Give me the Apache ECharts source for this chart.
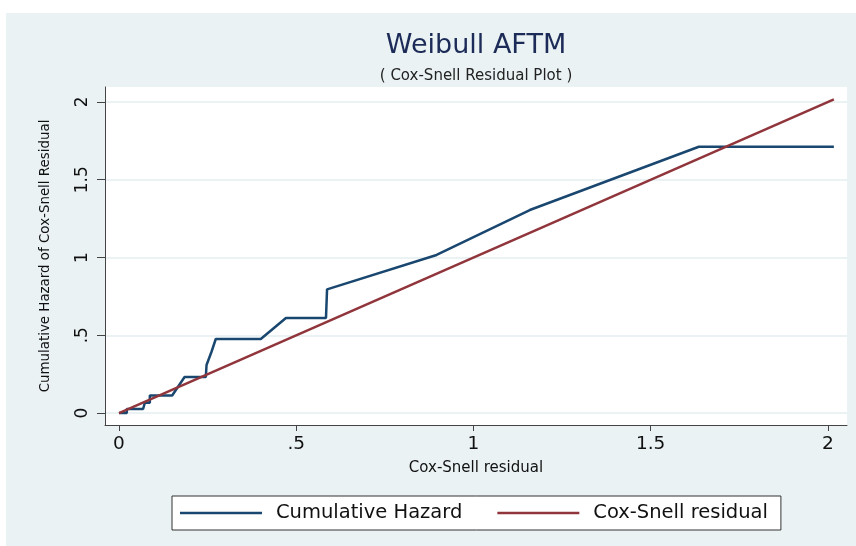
<!DOCTYPE html>
<html>
<head>
<meta charset="utf-8">
<script src="https://cdn.jsdelivr.net/npm/echarts@6/dist/echarts.min.js"></script>
<style>
html,body{margin:0;padding:0;background:#fff;}
#c{width:856px;height:546px;}
</style>
</head>
<body>
<div id="c"></div>
<script>
// Cumulative hazard (Nelson-Aalen) vs Cox-Snell residual
var hazX = [0, 0.022, 0.022, 0.068, 0.073, 0.087, 0.087, 0.150, 0.185, 0.245, 0.247, 0.261, 0.273, 0.400, 0.471, 0.584, 0.587, 0.896, 1.159, 1.636, 2.017];
var hazY = [0, 0, 0.026, 0.026, 0.066, 0.066, 0.113, 0.113, 0.232, 0.232, 0.309, 0.394, 0.476, 0.476, 0.611, 0.611, 0.795, 1.016, 1.305, 1.712, 1.712];
// Reference line: Cox-Snell residual vs itself
var csX = [0, 2.017];
var csY = [0, 2.017];
var xTicks = [0, 0.5, 1, 1.5, 2];
var yTicks = [0, 0.5, 1, 1.5, 2];
var seriesNames = ['Cumulative Hazard', 'Cox-Snell residual'];

var FONT = 'DejaVu Sans';
function fmt(v) {
  if (v === 0) return '0';
  var s = String(v);
  return s.charAt(0) === '0' ? s.slice(1) : s;
}
var hazData = hazX.map(function (x, i) { return [x, hazY[i]]; });
var csData = csX.map(function (x, i) { return [x, csY[i]]; });

var chart = echarts.init(document.getElementById('c'), null, {renderer: 'canvas'});
chart.setOption({
  animation: false,
  backgroundColor: '#ffffff',
  graphic: [{
    type: 'rect', z: -10, silent: true,
    shape: {x: 6, y: 13, width: 850, height: 533},
    style: {fill: '#EAF2F3'}
  }],
  title: [{
    text: 'Weibull AFTM', left: 476, top: 32, textAlign: 'center', padding: 0,
    textStyle: {fontFamily: FONT, fontSize: 27, fontWeight: 'normal', color: '#1c2b57'}
  }, {
    text: '( Cox-Snell Residual Plot )', left: 476, top: 69, textAlign: 'center', padding: 0,
    textStyle: {fontFamily: FONT, fontSize: 15, fontWeight: 'normal', color: '#222'}
  }],
  grid: {
    left: 105, right: 9, top: 87, bottom: 121,
    show: true, backgroundColor: '#ffffff', borderWidth: 0
  },
  legend: {
    left: 172, top: 496,
    orient: 'horizontal',
    padding: [7, 13, 7, 8],
    itemGap: 35,
    icon: 'rect',
    itemWidth: 82, itemHeight: 2.5,
    backgroundColor: '#ffffff',
    borderColor: '#333333', borderWidth: 1, borderRadius: 0,
    data: seriesNames,
    textStyle: {fontFamily: FONT, fontSize: 19.5, color: '#111', padding: [0, 0, 0, 9]}
  },
  xAxis: {
    type: 'value', min: -0.0395, max: 2.054,
    name: 'Cox-Snell residual', nameLocation: 'middle', nameGap: 36,
    nameTextStyle: {fontFamily: FONT, fontSize: 15, color: '#111'},
    axisLine: {show: true, onZero: false, lineStyle: {color: '#444', width: 1}},
    axisTick: {show: true, length: 6, customValues: xTicks, lineStyle: {color: '#444', width: 1}},
    axisLabel: {customValues: xTicks, formatter: fmt, margin: 10, fontFamily: FONT, fontSize: 18.5, color: '#111'},
    splitLine: {show: false}
  },
  yAxis: {
    type: 'value', min: -0.077, max: 2.096,
    name: 'Cumulative Hazard of Cox-Snell Residual', nameLocation: 'middle', nameGap: 53,
    nameTextStyle: {fontFamily: FONT, fontSize: 13.4, color: '#111'},
    axisLine: {show: true, onZero: false, lineStyle: {color: '#444', width: 1}},
    axisTick: {show: true, length: 8, customValues: yTicks, lineStyle: {color: '#444', width: 1}},
    axisLabel: {customValues: yTicks, formatter: fmt, rotate: 90, margin: 14, fontFamily: FONT, fontSize: 17, color: '#111'},
    splitLine: {show: true, lineStyle: {color: '#EAF2F3', width: 2}}
  },
  series: [{
    name: seriesNames[0], type: 'line', data: hazData,
    showSymbol: false, symbol: 'none',
    lineStyle: {color: '#1a476f', width: 2.5},
    itemStyle: {color: '#1a476f'}
  }, {
    name: seriesNames[1], type: 'line', data: csData,
    showSymbol: false, symbol: 'none',
    lineStyle: {color: '#90353b', width: 2.5},
    itemStyle: {color: '#90353b'}
  }]
});
</script>
</body>
</html>
